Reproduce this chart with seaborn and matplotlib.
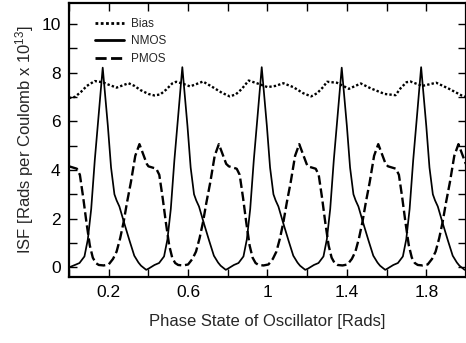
import matplotlib
matplotlib.use("Agg")
import matplotlib.pyplot as plt
from matplotlib.ticker import FixedLocator, MultipleLocator
import seaborn as sns
import pandas as pd

# ---------------- data ----------------
bias_x = [0.00, 0.03, 0.06, 0.09, 0.13, 0.17, 0.20, 0.24, 0.27, 0.30, 0.33, 0.36,
          0.40, 0.43, 0.46, 0.49, 0.52, 0.54, 0.57, 0.61, 0.64, 0.675, 0.72, 0.77,
          0.81, 0.84, 0.87, 0.905, 0.95, 1.00, 1.04, 1.08, 1.13, 1.18, 1.22, 1.25,
          1.28, 1.30, 1.35, 1.41, 1.47, 1.52, 1.59, 1.645, 1.67, 1.70, 1.72, 1.78,
          1.85, 1.915, 1.98, 2.00]
bias_y = [6.95, 7.00, 7.20, 7.45, 7.65, 7.60, 7.50, 7.38, 7.47, 7.56, 7.45, 7.28,
          7.12, 7.06, 7.10, 7.30, 7.55, 7.62, 7.55, 7.43, 7.52, 7.63, 7.42, 7.17,
          7.02, 7.10, 7.32, 7.67, 7.55, 7.40, 7.45, 7.56, 7.40, 7.15, 7.02, 7.15,
          7.40, 7.62, 7.58, 7.33, 7.55, 7.35, 7.12, 7.07, 7.35, 7.60, 7.63, 7.45,
          7.58, 7.33, 7.05, 7.00]

nmos_x = [0.000, 0.030, 0.053, 0.078, 0.095, 0.112, 0.130, 0.150, 0.170, 0.196,
          0.212, 0.229, 0.240, 0.254, 0.279, 0.305, 0.329, 0.350, 0.363, 0.389,
          0.401, 0.431, 0.454, 0.479, 0.496, 0.513, 0.531, 0.551, 0.571, 0.597,
          0.613, 0.630, 0.641, 0.655, 0.680, 0.706, 0.730, 0.751, 0.764, 0.790,
          0.801, 0.831, 0.854, 0.879, 0.896, 0.913, 0.931, 0.951, 0.971, 0.997,
          1.013, 1.030, 1.041, 1.055, 1.080, 1.106, 1.130, 1.151, 1.164, 1.190,
          1.204, 1.234, 1.257, 1.282, 1.299, 1.316, 1.334, 1.354, 1.374, 1.400,
          1.416, 1.433, 1.444, 1.458, 1.483, 1.509, 1.533, 1.554, 1.567, 1.593,
          1.604, 1.634, 1.657, 1.682, 1.699, 1.716, 1.734, 1.754, 1.774, 1.800,
          1.816, 1.833, 1.844, 1.858, 1.883, 1.909, 1.933, 1.954, 1.967, 1.993,
          2.000]
nmos_y = [0.00, 0.10, 0.18, 0.45, 1.15, 2.40, 4.40, 6.30, 8.20, 5.80,
          4.10, 3.00, 2.75, 2.50, 1.80, 1.10, 0.48, 0.20, 0.07, -0.10,
          -0.05, 0.10, 0.18, 0.45, 1.15, 2.40, 4.40, 6.30, 8.22, 5.80,
          4.10, 3.00, 2.75, 2.50, 1.80, 1.10, 0.48, 0.20, 0.07, -0.10,
          -0.05, 0.10, 0.18, 0.45, 1.15, 2.40, 4.40, 6.30, 8.22, 5.80,
          4.10, 3.00, 2.75, 2.50, 1.80, 1.10, 0.48, 0.20, 0.07, -0.10,
          -0.05, 0.10, 0.18, 0.45, 1.15, 2.40, 4.40, 6.30, 8.20, 5.80,
          4.10, 3.00, 2.75, 2.50, 1.80, 1.10, 0.48, 0.20, 0.07, -0.10,
          -0.05, 0.10, 0.18, 0.45, 1.15, 2.40, 4.40, 6.30, 8.22, 5.80,
          4.10, 3.00, 2.75, 2.50, 1.80, 1.10, 0.48, 0.20, 0.07, -0.10,
          -0.08]

pmos_x = [0.000, 0.020, 0.040, 0.055, 0.072, 0.088, 0.105, 0.120, 0.135, 0.150,
          0.175, 0.200, 0.222, 0.240, 0.258, 0.275, 0.292, 0.312, 0.334, 0.355,
          0.376, 0.392,
          0.400, 0.420, 0.440, 0.455, 0.472, 0.488, 0.505, 0.520, 0.535, 0.550,
          0.575, 0.600, 0.622, 0.640, 0.658, 0.675, 0.692, 0.712, 0.734, 0.755,
          0.776, 0.792,
          0.805, 0.825, 0.845, 0.860, 0.877, 0.893, 0.910, 0.925, 0.940, 0.955,
          0.980, 1.005, 1.027, 1.045, 1.063, 1.080, 1.097, 1.117, 1.139, 1.160,
          1.181, 1.197,
          1.203, 1.223, 1.243, 1.258, 1.275, 1.291, 1.308, 1.323, 1.338, 1.353,
          1.378, 1.403, 1.425, 1.443, 1.461, 1.478, 1.495, 1.515, 1.537, 1.558,
          1.579, 1.595,
          1.607, 1.627, 1.647, 1.662, 1.679, 1.695, 1.712, 1.727, 1.742, 1.757,
          1.782, 1.807, 1.829, 1.847, 1.865, 1.882, 1.899, 1.919, 1.941, 1.962,
          1.983, 1.999]
pmos_y = [4.15, 4.10, 4.05, 3.80, 2.85, 1.85, 0.90, 0.40, 0.18, 0.10,
          0.08, 0.12, 0.35, 0.65, 1.20, 1.85, 2.65, 3.50, 4.58, 5.06,
          4.60, 4.25,
          4.15, 4.10, 4.05, 3.80, 2.85, 1.85, 0.90, 0.40, 0.18, 0.10,
          0.08, 0.12, 0.35, 0.65, 1.20, 1.85, 2.65, 3.50, 4.58, 5.06,
          4.60, 4.25,
          4.15, 4.10, 4.05, 3.80, 2.85, 1.85, 0.90, 0.40, 0.18, 0.10,
          0.08, 0.12, 0.35, 0.65, 1.20, 1.85, 2.65, 3.50, 4.58, 5.06,
          4.60, 4.25,
          4.15, 4.10, 4.05, 3.80, 2.85, 1.85, 0.90, 0.40, 0.18, 0.10,
          0.08, 0.12, 0.35, 0.65, 1.20, 1.85, 2.65, 3.50, 4.58, 5.06,
          4.60, 4.25,
          4.15, 4.10, 4.05, 3.80, 2.85, 1.85, 0.90, 0.40, 0.18, 0.10,
          0.08, 0.12, 0.35, 0.65, 1.20, 1.85, 2.65, 3.50, 4.58, 5.06,
          4.60, 4.25]

series_names = ["Bias", "NMOS", "PMOS"]
x_tick_values = [0.2, 0.6, 1.0, 1.4, 1.8]
x_tick_labels = ["0.2", "0.6", "1", "1.4", "1.8"]
y_tick_values = [0, 2, 4, 6, 8, 10]
x_label = "Phase State of Oscillator [Rads]"
y_label = "ISF [Rads per Coulomb x 10$^{13}$]"

# ---------------- styling ----------------
sns.set_style("white")
plt.rcParams["font.family"] = ["Liberation Sans", "DejaVu Sans"]
plt.rcParams["mathtext.fontset"] = "custom"
plt.rcParams["mathtext.rm"] = "Liberation Sans"
plt.rcParams["mathtext.default"] = "regular"

fig = plt.figure(figsize=(4.66, 3.43), dpi=100)
ax = fig.add_axes([0.148, 0.192, 0.852, 0.799])

df_bias = pd.DataFrame({"x": bias_x, "y": bias_y})
df_nmos = pd.DataFrame({"x": nmos_x, "y": nmos_y})
df_pmos = pd.DataFrame({"x": pmos_x, "y": pmos_y})

sns.lineplot(data=df_bias, x="x", y="y", ax=ax, color="black", lw=1.7,
             linestyle=(0, (1, 0.9)), sort=False, estimator=None,
             label=series_names[0])
sns.lineplot(data=df_nmos, x="x", y="y", ax=ax, color="black", lw=1.25,
             sort=False, estimator=None, label=series_names[1])
sns.lineplot(data=df_pmos, x="x", y="y", ax=ax, color="black", lw=1.7,
             linestyle=(0, (4, 1.6)), sort=False, estimator=None,
             label=series_names[2])

ax.set_xlim(0, 2)
ax.set_ylim(-0.4, 10.85)

ax.xaxis.set_major_locator(FixedLocator(x_tick_values))
ax.set_xticklabels(x_tick_labels)
ax.xaxis.set_minor_locator(MultipleLocator(0.2))
ax.yaxis.set_major_locator(FixedLocator(y_tick_values))
ax.yaxis.set_minor_locator(MultipleLocator(1))

ax.tick_params(which="both", direction="in", length=6, width=1.0,
               top=True, right=True, bottom=True, left=True,
               labelsize=12.5, pad=6, colors="black")

for side in ["left", "bottom", "top", "right"]:
    ax.spines[side].set_visible(True)
    ax.spines[side].set_color("black")
    ax.spines[side].set_linewidth(1.6)

ax.set_xlabel(x_label, fontsize=12, labelpad=10)
ax.set_ylabel(y_label, fontsize=12, labelpad=4)

leg = ax.legend(loc="upper left", bbox_to_anchor=(0.065, 0.945), frameon=False,
                fontsize=8.5, handlelength=2.5, handletextpad=0.6,
                labelspacing=0.45, borderpad=0, borderaxespad=0)
for line in leg.get_lines():
    line.set_linewidth(2.0)

fig.savefig("out.png", dpi=100)
